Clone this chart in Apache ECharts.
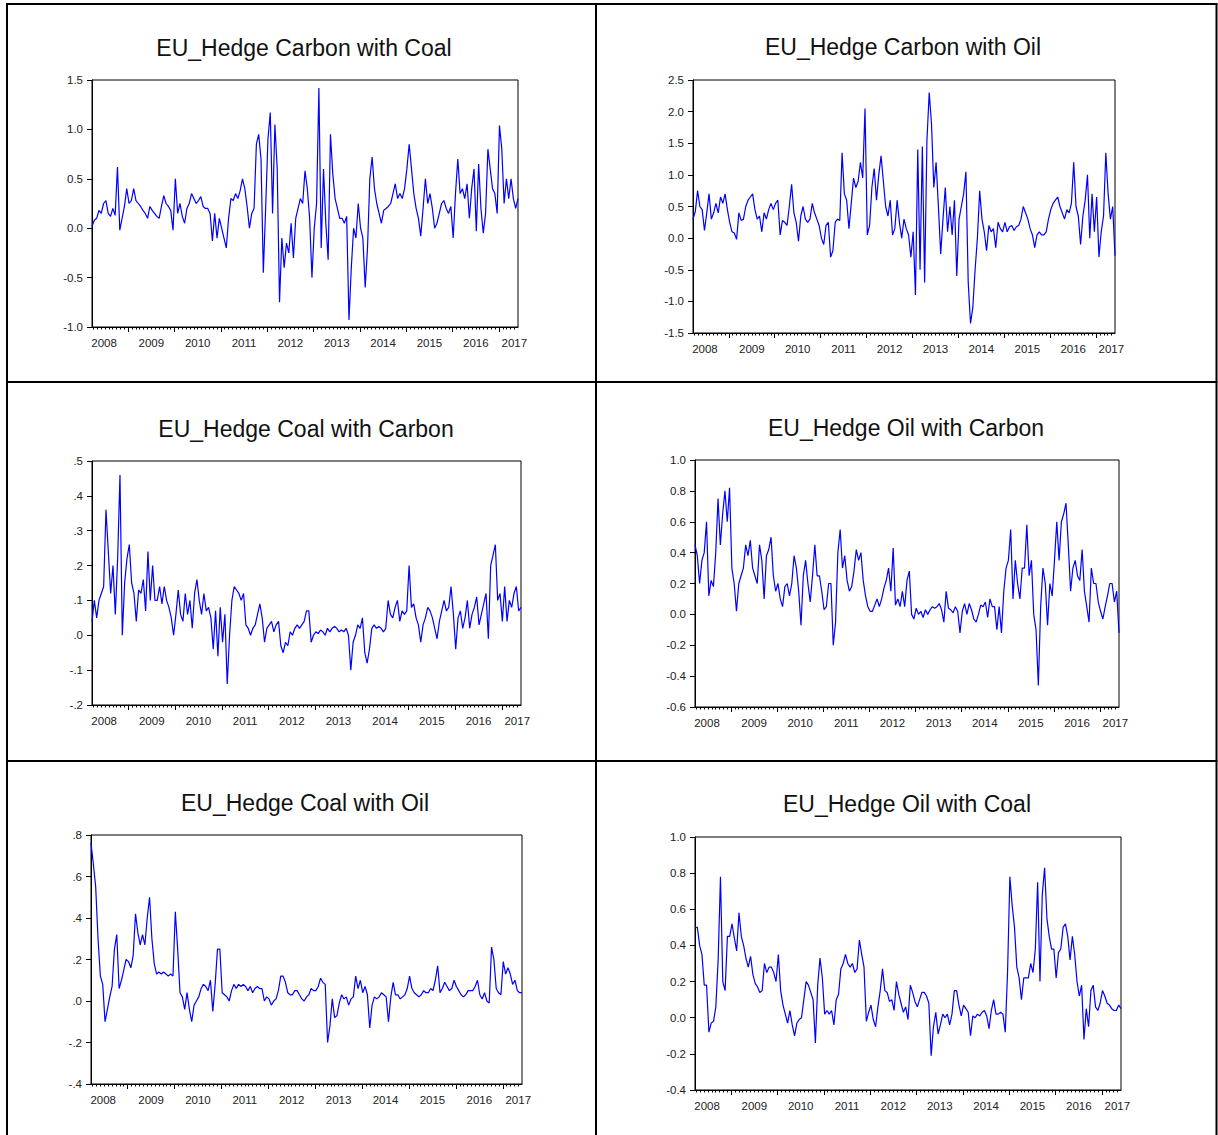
<!DOCTYPE html>
<html>
<head>
<meta charset="utf-8">
<script src="https://cdn.jsdelivr.net/npm/echarts@6/dist/echarts.min.js"></script>
<style>
html,body{margin:0;padding:0;background:#fff;}
#chart{width:1218px;height:1135px;}
</style>
</head>
<body>
<div id="chart"></div>
<script>
// ---------- DATA ----------
const X_MIN = 2008.22;           // first observation (decimal year)
const X_MAX = 2017.41;           // last observation
const YEAR_TICKS = [2009, 2010, 2011, 2012, 2013, 2014, 2015, 2016, 2017];
const YEAR_LABELS = [2008, 2009, 2010, 2011, 2012, 2013, 2014, 2015, 2016, 2017];
const YEAR_LABEL_POS = [2008.48, 2009.5, 2010.5, 2011.5, 2012.5, 2013.5, 2014.5, 2015.5, 2016.5, 2017.33];

const TITLES = [
  'EU_Hedge Carbon with Coal', 'EU_Hedge Carbon with Oil',
  'EU_Hedge Coal with Carbon', 'EU_Hedge Oil with Carbon',
  'EU_Hedge Coal with Oil', 'EU_Hedge Oil with Coal'
];

const carbonWithCoal = [
0.02,0.08,0.1,0.18,0.15,0.25,0.28,0.15,0.12,0.2,
0.13,0.62,-0.02,0.1,0.22,0.4,0.25,0.28,0.4,0.28,
0.25,0.22,0.18,0.15,0.1,0.22,0.18,0.15,0.12,0.1,
0.22,0.33,0.25,0.22,0.18,-0.02,0.5,0.15,0.25,0.12,
0.05,0.2,0.25,0.35,0.3,0.25,0.28,0.32,0.22,0.2,
0.2,0.15,-0.13,0.15,-0.1,0.1,0.0,-0.1,-0.2,0.1,
0.3,0.28,0.35,0.3,0.38,0.5,0.4,0.22,0.0,0.15,
0.2,0.85,0.95,0.7,-0.45,0.2,0.9,1.17,0.15,1.05,
0.6,-0.75,-0.1,-0.4,-0.15,-0.25,0.05,-0.3,0.1,0.2,
0.3,0.25,0.58,0.4,0.1,-0.5,0.0,0.25,1.42,-0.2,
0.6,0.05,-0.32,0.95,0.55,0.3,0.2,0.1,0.1,0.05,
0.12,-0.93,-0.4,0.0,-0.1,0.25,0.0,-0.1,-0.6,-0.2,
0.5,0.72,0.4,0.25,0.15,0.05,0.18,0.2,0.22,0.25,
0.35,0.45,0.3,0.35,0.3,0.4,0.6,0.85,0.6,0.35,
0.2,0.1,-0.08,0.2,0.5,0.25,0.35,0.2,0.0,0.05,
0.15,0.25,0.28,0.2,0.15,0.22,-0.1,0.35,0.7,0.35,
0.4,0.3,0.45,0.1,0.4,0.6,-0.03,0.65,0.2,-0.05,
0.15,0.8,0.6,0.4,0.35,0.15,1.04,0.8,0.25,0.5,
0.3,0.5,0.3,0.2,0.3
];

const carbonWithOil = [
0.3,0.42,0.75,0.5,0.45,0.12,0.4,0.7,0.3,0.4,
0.55,0.4,0.65,0.55,0.7,0.45,0.25,0.1,0.08,-0.02,
0.4,0.28,0.3,0.5,0.6,0.65,0.7,0.45,0.3,0.35,
0.1,0.4,0.3,0.45,0.55,0.45,0.55,0.6,0.05,0.28,
0.25,0.2,0.5,0.85,0.4,0.25,-0.05,0.35,0.5,0.3,
0.25,0.3,0.55,0.4,0.3,0.2,0.0,-0.1,0.2,0.25,
-0.3,-0.2,0.25,0.3,0.28,1.35,0.7,0.6,0.15,0.55,
0.95,0.8,0.9,1.2,0.95,2.05,0.05,0.2,0.8,1.1,
0.6,1.0,1.3,0.9,0.5,0.35,0.6,0.05,0.15,0.6,
0.25,0.0,0.3,0.15,0.05,-0.3,0.1,-0.9,1.4,-0.5,
1.45,-0.7,1.55,2.3,1.8,0.8,1.2,0.5,-0.25,0.3,
0.8,0.1,0.5,0.05,0.6,-0.6,0.3,0.5,0.7,1.05,
-0.7,-1.35,-1.1,-0.5,0.0,0.75,0.3,0.1,-0.2,0.2,
0.1,0.15,-0.15,0.25,0.15,0.1,0.25,0.1,0.18,0.2,
0.12,0.18,0.2,0.3,0.5,0.4,0.3,0.15,0.05,-0.15,
0.05,0.1,0.05,0.05,0.1,0.3,0.45,0.55,0.6,0.65,
0.5,0.4,0.3,0.45,0.4,0.55,1.2,0.5,0.35,-0.1,
0.35,0.6,1.0,0.0,0.7,0.1,0.65,-0.3,0.1,0.35,
1.35,0.7,0.3,0.5,-0.28
];

const coalWithCarbon = [
0.04,0.1,0.05,0.1,0.12,0.14,0.36,0.24,0.12,0.2,
0.06,0.22,0.46,0.0,0.15,0.22,0.26,0.15,0.12,0.04,
0.13,0.12,0.16,0.07,0.24,0.1,0.2,0.1,0.1,0.14,
0.09,0.14,0.1,0.08,0.05,0.0,0.06,0.13,0.06,0.04,
0.12,0.06,0.1,0.02,0.12,0.16,0.1,0.06,0.12,0.07,
0.08,0.05,-0.04,0.07,-0.06,0.08,-0.02,0.06,-0.14,0.0,
0.1,0.14,0.13,0.12,0.1,0.12,0.03,0.02,0.0,0.02,
0.03,0.06,0.09,0.05,-0.02,0.02,0.03,0.04,0.01,0.03,
0.04,-0.03,-0.05,-0.02,-0.03,0.01,0.0,0.02,0.03,0.02,
0.03,0.04,0.07,0.07,-0.02,0.0,0.01,0.005,0.015,0.01,
0.0,0.02,0.01,0.02,0.025,0.02,0.01,0.015,0.01,0.02,
0.0,-0.1,-0.02,0.0,0.03,0.02,0.05,-0.05,-0.08,-0.04,
0.02,0.03,0.02,0.025,0.02,0.01,0.02,0.1,0.06,0.05,
0.08,0.1,0.04,0.07,0.06,0.07,0.2,0.08,0.09,0.05,
0.03,-0.02,0.03,0.05,0.08,0.07,0.05,0.02,-0.01,0.04,
0.07,0.1,0.07,0.08,0.14,0.06,-0.04,0.05,0.07,0.02,
0.05,0.1,0.02,0.06,0.08,0.11,0.03,0.06,0.09,0.12,
-0.01,0.2,0.23,0.26,0.1,0.12,0.04,0.14,0.04,0.1,
0.08,0.12,0.14,0.07,0.08
];

const oilWithCarbon = [
0.45,0.38,0.2,0.35,0.4,0.6,0.12,0.22,0.18,0.4,
0.75,0.45,0.65,0.8,0.6,0.82,0.3,0.2,0.02,0.2,
0.25,0.3,0.45,0.38,0.48,0.3,0.25,0.2,0.45,0.35,
0.1,0.38,0.42,0.5,0.25,0.15,0.2,0.1,0.05,0.18,
0.2,0.12,0.2,0.38,0.3,0.15,-0.07,0.25,0.35,0.2,
0.08,0.25,0.45,0.25,0.25,0.15,0.03,0.05,0.2,0.2,
-0.2,-0.05,0.4,0.55,0.3,0.38,0.22,0.15,0.18,0.28,
0.42,0.35,0.4,0.22,0.12,0.05,0.02,0.02,0.06,0.1,
0.05,0.1,0.17,0.22,0.3,0.15,0.43,0.06,0.1,0.05,
0.15,0.05,0.22,0.28,0.0,-0.03,0.04,0.0,0.02,-0.02,
0.03,0.0,0.03,0.05,0.04,0.05,0.07,0.03,-0.05,0.15,
0.04,0.03,0.01,0.05,0.02,-0.12,0.02,0.07,0.0,0.07,
0.03,-0.03,-0.05,0.0,0.06,0.05,0.08,-0.02,0.1,0.05,
0.05,-0.1,0.05,-0.12,0.15,0.3,0.35,0.55,0.1,0.35,
0.2,0.1,0.3,0.3,0.58,0.25,0.35,0.0,-0.1,-0.46,
0.05,0.3,0.2,-0.07,0.2,0.12,0.35,0.6,0.35,0.6,
0.65,0.72,0.45,0.15,0.3,0.35,0.25,0.22,0.42,0.15,
0.05,-0.05,0.3,0.2,0.2,0.08,0.02,-0.03,0.05,0.12,
0.2,0.2,0.08,0.15,-0.12
];

const coalWithOil = [
0.76,0.66,0.55,0.3,0.12,0.08,-0.1,-0.04,0.02,0.07,
0.25,0.32,0.06,0.1,0.15,0.2,0.19,0.16,0.22,0.42,
0.33,0.27,0.32,0.27,0.4,0.5,0.3,0.18,0.13,0.14,
0.13,0.14,0.13,0.12,0.13,0.12,0.43,0.25,0.04,0.02,
-0.04,0.04,-0.04,-0.1,-0.02,0.0,0.02,0.06,0.08,0.07,
0.05,0.1,-0.05,0.08,0.25,0.25,0.04,0.03,0.02,0.0,
0.05,0.08,0.06,0.08,0.07,0.08,0.07,0.05,0.07,0.04,
0.06,0.07,0.06,0.06,0.0,0.02,0.01,-0.02,0.0,0.01,
0.05,0.12,0.12,0.09,0.04,0.03,0.03,0.05,0.05,0.03,
0.01,0.0,0.02,0.03,0.06,0.05,0.05,0.07,0.11,0.09,
0.08,-0.2,-0.12,0.01,-0.08,-0.07,-0.01,0.03,0.01,0.02,
-0.02,0.01,0.02,0.12,0.06,0.1,0.04,0.07,0.03,-0.13,
-0.02,0.02,0.01,0.02,0.04,0.03,0.02,-0.1,0.02,0.09,
0.03,0.03,0.01,0.02,0.03,0.06,0.12,0.06,0.04,0.03,
0.02,0.03,0.05,0.04,0.04,0.06,0.05,0.1,0.17,0.04,
0.06,0.09,0.07,0.05,0.06,0.1,0.07,0.05,0.03,0.02,
0.03,0.05,0.05,0.05,0.07,0.1,0.03,0.01,0.04,0.0,
-0.01,0.26,0.2,0.06,0.04,0.03,0.19,0.13,0.16,0.13,
0.08,0.1,0.05,0.04,0.04
];

const oilWithCoal = [
0.5,0.5,0.4,0.35,0.18,0.18,-0.08,-0.03,-0.02,0.06,
0.32,0.78,0.2,0.15,0.45,0.45,0.52,0.44,0.37,0.58,
0.45,0.4,0.33,0.28,0.34,0.24,0.19,0.17,0.14,0.15,
0.3,0.25,0.28,0.28,0.25,0.2,0.35,0.15,0.07,0.02,
-0.03,0.04,-0.04,-0.1,-0.03,-0.01,0.0,0.1,0.2,0.18,
0.14,0.1,-0.14,0.18,0.33,0.22,0.02,0.04,0.02,0.04,
-0.04,0.1,0.13,0.27,0.3,0.35,0.3,0.28,0.3,0.25,
0.27,0.43,0.35,0.28,-0.02,0.03,0.07,-0.01,-0.05,0.06,
0.15,0.27,0.15,0.14,0.09,0.1,0.04,0.2,0.13,0.08,
0.03,0.06,-0.01,0.18,0.14,0.09,0.06,0.1,0.14,0.14,
0.12,0.08,-0.21,-0.05,0.03,-0.09,-0.04,0.02,0.0,0.02,
-0.04,0.02,0.15,0.15,0.07,0.01,0.07,0.05,0.03,-0.1,
0.01,0.0,0.02,0.01,0.03,0.04,0.01,-0.06,0.04,0.1,
0.02,0.02,0.03,0.02,-0.08,0.25,0.78,0.62,0.5,0.28,
0.22,0.1,0.22,0.22,0.22,0.3,0.25,0.38,0.75,0.2,
0.68,0.83,0.55,0.45,0.38,0.38,0.22,0.36,0.38,0.5,
0.52,0.45,0.32,0.45,0.35,0.2,0.12,0.18,-0.12,0.05,
-0.05,0.15,0.18,0.06,0.04,0.08,0.15,0.12,0.08,0.07,
0.05,0.04,0.04,0.07,0.05
];

const SERIES_VALUES = [carbonWithCoal, carbonWithOil, coalWithCarbon, oilWithCarbon, coalWithOil, oilWithCoal];
const Y_MIN = [-1.0, -1.5, -0.2, -0.6, -0.4, -0.4];
const Y_MAX = [1.5, 2.5, 0.5, 1.0, 0.8, 1.0];
const Y_STEP = [0.5, 0.5, 0.1, 0.2, 0.2, 0.2];
const Y_SHORT = [false, false, true, false, true, false]; // ".5" style labels

// ---------- LAYOUT ----------
const GRIDS = [
  {left: 92, top: 80, width: 426, height: 247},
  {left: 693, top: 80, width: 422, height: 253},
  {left: 92, top: 461, width: 429, height: 244},
  {left: 695, top: 460, width: 424, height: 247},
  {left: 91, top: 835, width: 431, height: 249},
  {left: 695, top: 837, width: 426, height: 253}
];
const TITLE_POS = [[304, 48], [903, 47], [306, 429], [906, 428], [305, 803], [907, 804]];

const FONT = "'Liberation Sans', Arial, sans-serif";
const MONTH_TICKS = [];
for (let y = 2008; y <= 2017; y++) {
  for (let m = 1; m < 12; m++) {
    const v = y + m / 12;
    if (v > X_MIN && v < X_MAX) MONTH_TICKS.push(v);
  }
}

function yFormatter(short) {
  return function (v) {
    if (Math.abs(v) < 1e-9) v = 0;
    let s = v.toFixed(1);
    if (short) s = s.replace(/^(-?)0\./, '$1.');
    return s;
  };
}

const grid = [], xAxis = [], yAxis = [], series = [], graphic = [];
for (let i = 0; i < 6; i++) {
  grid.push(Object.assign({show: true, borderColor: '#000', borderWidth: 1, containLabel: false}, GRIDS[i]));
  xAxis.push({
    type: 'value', gridIndex: i, min: X_MIN, max: X_MAX, position: 'bottom',
    axisLine: {show: true, onZero: false, lineStyle: {color: '#000', width: 1}},
    axisTick: {show: true, customValues: YEAR_TICKS, length: 5, lineStyle: {color: '#000', width: 1}},
    axisLabel: {show: true, customValues: YEAR_LABEL_POS,
      formatter: v => String(YEAR_LABELS[Math.min(9, Math.max(0, Math.floor(v + 1e-6) - 2008))]),
      margin: 10, color: '#222', fontSize: 11.5, fontFamily: FONT},
    splitLine: {show: false}
  });
  xAxis.push({
    type: 'value', gridIndex: i, min: X_MIN, max: X_MAX, position: 'bottom',
    axisLine: {show: false, onZero: false},
    axisTick: {show: true, customValues: MONTH_TICKS, length: 2.5, lineStyle: {color: '#000', width: 1}},
    axisLabel: {show: false},
    splitLine: {show: false}
  });
  yAxis.push({
    type: 'value', gridIndex: i, min: Y_MIN[i], max: Y_MAX[i], interval: Y_STEP[i],
    axisLine: {show: true, onZero: false, lineStyle: {color: '#000', width: 1}},
    axisTick: {show: true, length: 5, lineStyle: {color: '#000', width: 1}},
    axisLabel: {formatter: yFormatter(Y_SHORT[i]), margin: 9, color: '#222', fontSize: 11.5, fontFamily: FONT},
    splitLine: {show: false}
  });
  const vals = SERIES_VALUES[i];
  const dt = (X_MAX - X_MIN) / (vals.length - 1);
  series.push({
    type: 'line', name: TITLES[i], xAxisIndex: 2 * i, yAxisIndex: i,
    data: vals.map((v, k) => [X_MIN + k * dt, v]),
    showSymbol: false, symbol: 'none', silent: true,
    lineStyle: {color: '#0000ff', width: 1.2}
  });
  graphic.push({
    type: 'text', x: TITLE_POS[i][0], y: TITLE_POS[i][1], silent: true,
    style: {text: TITLES[i], fill: '#111', font: '23px ' + FONT, textAlign: 'center', textVerticalAlign: 'middle'}
  });
}

// table borders
const BORDER = {stroke: '#000', lineWidth: 2};
[[7, 4, 7, 1135], [596, 4, 596, 1135], [1216.5, 4, 1216.5, 1135],
 [6, 4, 1217.5, 4], [6, 382, 1217.5, 382], [6, 761, 1217.5, 761]].forEach(s => {
  graphic.push({type: 'line', silent: true, shape: {x1: s[0], y1: s[1], x2: s[2], y2: s[3]}, style: BORDER});
});

const chart = echarts.init(document.getElementById('chart'), null, {renderer: 'svg'});
chart.setOption({
  animation: false,
  backgroundColor: '#fff',
  grid, xAxis, yAxis, series, graphic
});
</script>
</body>
</html>
